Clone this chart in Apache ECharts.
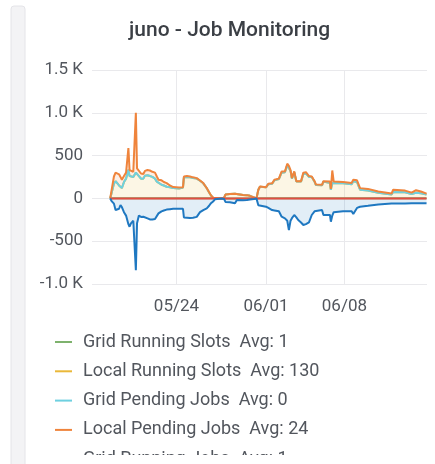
<!DOCTYPE html>
<html>
<head>
<meta charset="utf-8">
<title>juno - Job Monitoring</title>
<script src="https://cdn.jsdelivr.net/npm/echarts@6/dist/echarts.min.js"></script>
<style>
  html, body { margin: 0; padding: 0; background: #fff; }
  #chart { width: 435px; height: 464px; }
</style>
</head>
<body>
<div id="chart"></div>
<script>
const year = 2021
// sample times (MM-DD hh:mm)
const times = [
  '05-18 02:00', '05-18 05:00', '05-18 10:00', '05-18 13:30', '05-18 16:30', '05-18 21:00', '05-19 00:00', '05-19 03:00',
  '05-19 07:30', '05-19 12:00', '05-19 17:00', '05-19 19:30', '05-19 22:30', '05-20 03:30', '05-20 07:00', '05-20 09:00',
  '05-20 11:30', '05-20 15:30', '05-20 20:00', '05-21 01:00', '05-21 04:30', '05-21 10:00', '05-21 15:00', '05-21 20:30',
  '05-22 02:00', '05-22 06:00', '05-22 09:30', '05-22 16:00', '05-22 21:00', '05-23 03:00', '05-23 10:00', '05-23 17:00',
  '05-24 05:30', '05-24 14:00', '05-24 16:00', '05-24 22:30', '05-25 05:00', '05-25 11:30', '05-25 19:30', '05-26 02:30',
  '05-26 09:30', '05-26 13:00', '05-26 17:00', '05-26 22:00', '05-27 02:00', '05-27 06:30', '05-27 10:30', '05-28 01:30',
  '05-28 06:00', '05-28 09:00', '05-28 18:30', '05-29 05:30', '05-29 09:30', '05-29 22:30', '05-30 07:00', '05-30 13:30',
  '05-30 22:00', '05-31 03:30', '05-31 07:30', '05-31 11:00', '06-01 00:00', '06-01 05:00', '06-01 13:00', '06-01 18:00',
  '06-02 03:30', '06-02 09:30', '06-02 16:30', '06-02 21:30', '06-03 01:00', '06-03 04:30', '06-03 07:30', '06-03 12:30',
  '06-03 17:00', '06-03 21:00', '06-04 03:00', '06-04 08:00', '06-04 13:30', '06-04 20:00', '06-05 02:00', '06-05 08:00',
  '06-05 11:00', '06-06 00:00', '06-06 03:00', '06-06 17:00', '06-06 19:00', '06-06 22:00', '06-07 01:00', '06-07 21:00',
  '06-08 15:30', '06-08 19:00', '06-09 03:00', '06-09 09:30', '06-10 02:30', '06-11 00:30', '06-12 05:00', '06-12 08:30',
  '06-13 10:00', '06-14 00:00', '06-14 09:30', '06-14 20:00', '06-15 08:00'
]

const gridRunningSlots = [
  0, 1, 1, 1, 1, 1, 1, 1, 1, 1, 1, 1, 1, 1, 1, 1, 1, 1, 1, 1, 1, 1, 1, 1, 1,
  1, 1, 1, 1, 1, 1, 1, 1, 1, 1, 1, 1, 1, 1, 1, 1, 1, 1, 1, 1, 1, 0, 0, 0, 0,
  0, 0, 0, 0, 0, 0, 0, 0, 1, 1, 1, 1, 1, 1, 1, 1, 1, 1, 1, 1, 1, 1, 1, 1, 1,
  1, 1, 1, 1, 1, 1, 1, 1, 1, 1, 1, 1, 1, 1, 1, 1, 1, 1, 1, 1, 1, 1, 1, 1, 1, 1
]
const localRunningSlots = [
  0, 5, 170, 200, 190, 150, 130, 119, 190, 230, 334, 260, 250, 250, 270, 300, 280, 260, 230, 230,
  265, 270, 260, 250, 230, 195, 175, 158, 150, 135, 130, 120, 115, 125, 245, 250, 245, 238, 230, 205,
  175, 148, 117, 68, 33, 8, 0, 0, 5, 45, 50, 55, 38, 40, 38, 30, 12, 0, 100, 135,
  128, 165, 170, 210, 225, 300, 305, 390, 370, 320, 230, 305, 195, 190, 195, 285, 290, 250, 250, 195,
  155, 152, 195, 180, 100, 180, 180, 175, 165, 200, 190, 100, 90, 65, 45, 75, 70, 50, 65, 60, 45
]
const gridPendingJobs = [
  0, 0, 0, 0, 0, 0, 0, 0, 0, 0, 0, 0, 0, 0, 0, 0, 0, 0, 0, 0, 0, 0, 0, 0, 0,
  0, 0, 0, 0, 0, 0, 0, 0, 0, 0, 0, 0, 0, 0, 0, 0, 0, 0, 0, 0, 0, 0, 0, 0, 0,
  0, 0, 0, 0, 0, 0, 0, 0, 0, 0, 0, 0, 0, 0, 0, 0, 0, 0, 0, 0, 0, 0, 0, 0, 0,
  0, 0, 0, 0, 0, 0, 0, 0, 0, 0, 0, 0, 0, 0, 0, 0, 0, 0, 0, 0, 0, 0, 0, 0, 0, 0
]
const localPendingJobs = [
  0, 5, 85, 100, 124, 130, 120, 98, 70, 70, 254, 70, 64, 60, 60, 698, 70, 70, 60, 55,
  55, 60, 65, 60, 70, 60, 42, 52, 40, 43, 20, 11, 10, 5, 10, 10, 10, 7, 6, 3,
  3, 2, 2, 2, 2, 0, 0, 0, 0, 0, 0, 0, 0, 0, 0, 0, 0, 0, 0, 3,
  2, 5, 5, 7, 5, 14, 9, 14, 10, 10, 6, 9, 5, 7, 5, 15, 15, 10, 5, 5,
  5, 6, 5, 15, 10, 145, 17, 15, 15, 17, 20, 19, 20, 15, 10, 25, 20, 16, 30, 20, 10
]
// drawn below zero (negative-Y)
const gridRunningJobs = [
  1, 1, 1, 1, 1, 1, 1, 1, 1, 1, 1, 1, 1, 1, 1, 1, 1, 1, 1, 1, 1, 1, 1, 1, 1,
  1, 1, 1, 1, 1, 1, 1, 1, 1, 1, 1, 1, 1, 1, 1, 1, 1, 1, 1, 1, 1, 1, 1, 1, 1,
  1, 1, 1, 1, 1, 1, 1, 1, 1, 1, 1, 1, 1, 1, 1, 1, 1, 1, 1, 1, 1, 1, 1, 1, 1,
  1, 1, 1, 1, 1, 1, 1, 1, 1, 1, 1, 1, 1, 1, 1, 1, 1, 1, 1, 1, 1, 1, 1, 1, 1, 1
]
const localRunningJobs = [
  0, 30, 60, 135, 140, 120, 76, 100, 160, 200, 300, 330, 290, 260, 240, 837, 290, 200, 215, 213,
  200, 232, 245, 245, 240, 220, 174, 150, 140, 130, 125, 120, 120, 120, 222, 225, 228, 225, 215, 160,
  135, 125, 115, 85, 55, 35, 10, 0, 5, 40, 45, 55, 18, 20, 18, 12, 5, 0, 80, 96,
  96, 110, 135, 140, 150, 213, 232, 260, 369, 260, 230, 193, 220, 252, 280, 310, 300, 280, 193, 150,
  135, 135, 193, 193, 271, 200, 160, 150, 150, 181, 110, 96, 85, 70, 60, 58, 58, 56, 56, 56, 56
]

const xRange = ['05-16 11:00', '06-15 09:00']
const xTicks = ['05-24 00:00', '06-01 00:00', '06-08 00:00']
const legendNames = ['Grid Running Slots', 'Local Running Slots', 'Grid Pending Jobs', 'Local Pending Jobs', 'Grid Running Jobs']
const legendAvgs = ['1', '130', '0', '24', '1']

const toTime = (s) => {
  const [md, hm] = s.split(' ')
  const [m, d] = md.split('-').map(Number)
  const [h, mi] = hm.split(':').map(Number)
  return new Date(year, m - 1, d, h, mi).getTime()
}
const pad = (n) => (n < 10 ? '0' : '') + n

const makeSeries = (name, values, color, sign) => ({
  name,
  type: 'line',
  stack: 'total',
  // value first so that the stack is done on the values, not the times
  encode: { x: 1, y: 0 },
  showSymbol: false,
  symbol: 'none',
  color,
  lineStyle: { width: 2, color },
  areaStyle: { color, opacity: 0.13 },
  data: times.map((t, i) => [sign * values[i], toTime(t)])
})

const chart = echarts.init(document.getElementById('chart'))
chart.setOption({
  animation: false,
  backgroundColor: '#fff',
  title: {
    text: 'juno - Job Monitoring',
    left: 124,
    top: 15,
    textStyle: { fontFamily: 'Roboto', fontSize: 21, fontWeight: 500, color: '#3b3f45' }
  },
  grid: { left: 92, right: 8, top: 70, bottom: 180 },
  legend: {
    orient: 'vertical',
    left: 55,
    top: 331,
    padding: 0,
    height: 300,
    itemGap: 7.3,
    itemWidth: 17,
    itemHeight: 2,
    icon: 'rect',
    data: legendNames,
    formatter: (name) => name + '  Avg: ' + legendAvgs[legendNames.indexOf(name)],
    textStyle: { fontFamily: 'Roboto', fontSize: 18, lineHeight: 22, color: '#52565d', padding: [0, 0, 0, 6] }
  },
  xAxis: {
    type: 'value',
    min: toTime(xRange[0]),
    max: toTime(xRange[1]),
    axisLine: { show: false },
    axisTick: { show: false, customValues: xTicks.map(toTime) },
    axisLabel: {
      customValues: xTicks.map(toTime),
      margin: 14,
      fontFamily: 'Roboto',
      fontSize: 17,
      color: '#52565d',
      formatter: (v) => { const d = new Date(v); return pad(d.getMonth() + 1) + '/' + pad(d.getDate()) }
    },
    splitLine: { show: true, lineStyle: { color: '#e9e9ec', width: 1 } }
  },
  yAxis: {
    type: 'value',
    min: -1000,
    max: 1500,
    interval: 500,
    axisLine: { show: false },
    axisTick: { show: false },
    axisLabel: {
      margin: 9,
      fontFamily: 'Roboto',
      fontSize: 17,
      color: '#52565d',
      formatter: (v) => Math.abs(v) >= 1000 ? (v / 1000).toFixed(1) + ' K' : String(v)
    },
    splitLine: { lineStyle: { color: '#e9e9ec', width: 1 } }
  },
  series: [
    makeSeries('Grid Running Slots', gridRunningSlots, '#7EB26D', 1),
    makeSeries('Local Running Slots', localRunningSlots, '#EAB839', 1),
    makeSeries('Grid Pending Jobs', gridPendingJobs, '#6ED0E0', 1),
    makeSeries('Local Pending Jobs', localPendingJobs, '#EF843C', 1),
    makeSeries('Grid Running Jobs', gridRunningJobs, '#E24D42', -1),
    makeSeries('Local Running Jobs', localRunningJobs, '#1F78C1', -1)
  ],
  graphic: [
    // panel bottom cuts the legend
    { type: 'rect', z: 100, shape: { x: 26, y: 455, width: 420, height: 20 }, style: { fill: '#fff' } },
    // left side strip
    { type: 'rect', z: 101, shape: { x: 11, y: 6, width: 14, height: 470, r: 3 }, style: { fill: '#f3f3f5', stroke: '#e4e4e8', lineWidth: 1 } }
  ]
})
</script>
</body>
</html>
